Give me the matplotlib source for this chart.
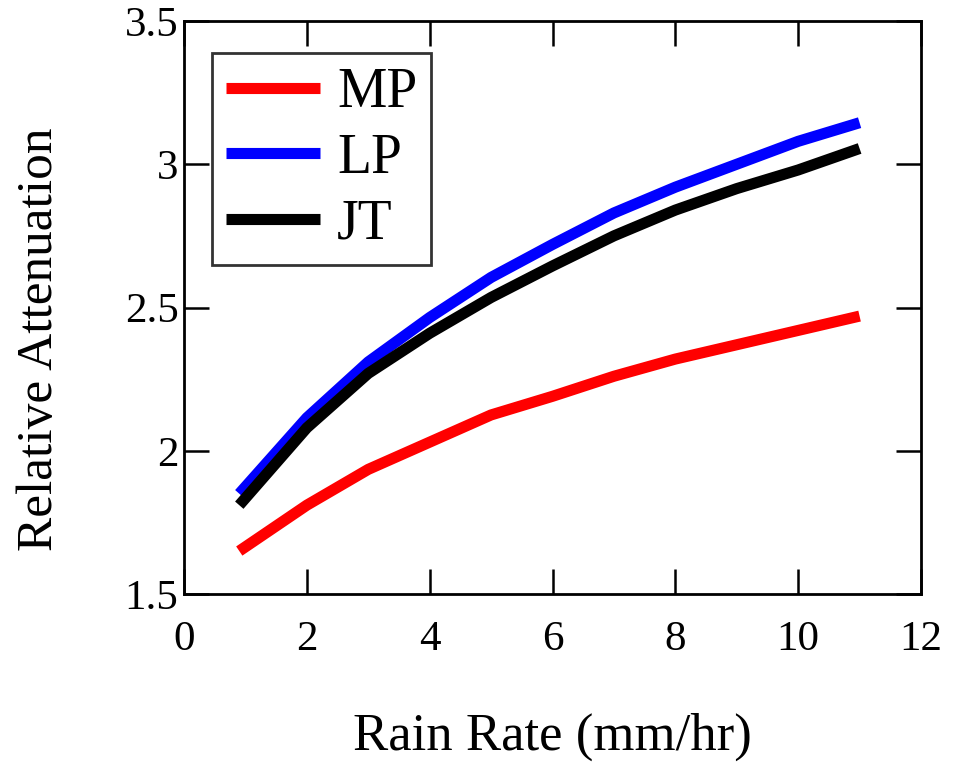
import matplotlib
matplotlib.use("Agg")
import matplotlib.pyplot as plt

# rain rate (mm/hr)
rain_rate = [0.9, 2, 3, 4, 5, 6, 7, 8, 9, 10, 11]

# relative attenuation
mp = [1.65, 1.81, 1.935, 2.03, 2.125, 2.19, 2.26, 2.32, 2.37, 2.42, 2.47]
lp = [1.85, 2.115, 2.31, 2.465, 2.605, 2.72, 2.83, 2.92, 3.0, 3.08, 3.145]
jt = [1.81, 2.08, 2.27, 2.41, 2.535, 2.645, 2.75, 2.84, 2.915, 2.98, 3.055]

series = [("MP", mp, "#ff0000"), ("LP", lp, "#0000ff"), ("JT", jt, "#000000")]

plt.rcParams['font.family'] = ['Liberation Serif', 'DejaVu Serif']

fig = plt.figure(figsize=(9.59, 7.65), dpi=100)
ax = fig.add_axes([184 / 959, 1 - 594 / 765, (921 - 184) / 959, (594 - 21) / 765])

for name, vals, col in series:
    ax.plot(rain_rate, vals, color=col, lw=8, label=name, solid_capstyle='butt')

ax.set_xlim(0, 12)
ax.set_ylim(1.5, 3.5)
ax.set_xticks([0, 2, 4, 6, 8, 10, 12])
ax.set_yticks([1.5, 2, 2.5, 3, 3.5])
ax.set_yticklabels(["1.5", "2", "2.5", "3", "3.5"])
ax.tick_params(direction='in', length=18, width=1.8, labelsize=31,
               top=True, right=True)
ax.tick_params(axis='x', pad=19)
ax.tick_params(axis='y', pad=4)
for sp in ax.spines.values():
    sp.set_linewidth(2)

ax.set_xlabel("Rain Rate (mm/hr)", fontsize=38, labelpad=39)
ax.set_ylabel("Relative Attenuation", fontsize=37)
ax.yaxis.set_label_coords(-0.164, 0.445)

leg = ax.legend(loc='upper left', bbox_to_anchor=(0.038, 0.944), fontsize=40,
                frameon=True, fancybox=False, handlelength=1.7,
                handletextpad=0.3, labelspacing=0.25, borderpad=0.25,
                borderaxespad=0)
leg.get_frame().set_edgecolor('black')
leg.get_frame().set_linewidth(2)

fig.savefig("out.png", dpi=100)
